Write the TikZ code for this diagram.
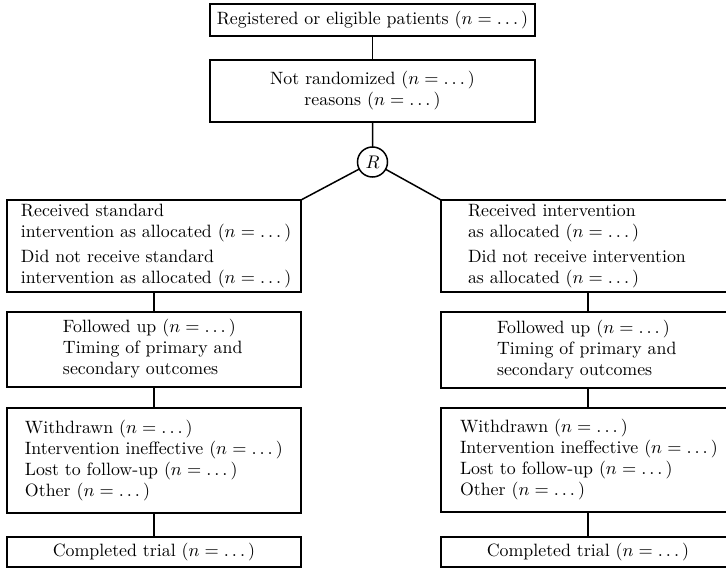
\documentclass[tikz,border=0pt]{standalone}
\usepackage{amsmath}
\newcommand\cellL[2]{\makebox[176.4pt][l]{\hspace*{#1}\begin{tabular}{@{}l@{}}#2\end{tabular}}}
\begin{document}
\begin{tikzpicture}[x=0.6pt,y=-0.6pt,
  every node/.style={font=\fontsize{10.7pt}{12.6pt}\selectfont},
  box/.style={draw, line width=0.9pt, anchor=north west, inner ysep=0pt, inner xsep=0pt, outer sep=0pt},
  wbox/.style={box, minimum width=176.4pt, minimum height=#1},
  cbox/.style={box, minimum width=176.4pt, minimum height=18pt, align=center},
  conn/.style={line width=0.9pt}]
\useasboundingbox (0,0) rectangle (726,568);
% top part
\node[box, minimum width=195pt, minimum height=19.2pt, align=center] (top) at (210,4) {Registered or eligible patients ($n=\dots$)};
\node[box, minimum width=195pt, minimum height=37.2pt, align=center] (nr) at (210,60) {Not randomized ($n=\dots$)\\reasons ($n=\dots$)};
\node[draw, circle, line width=0.9pt, minimum size=18pt, inner sep=0pt, outer sep=0pt] (R) at (372.5,162) {$R$};
% left column
\node[wbox=55.2pt] (L1) at (7,200) {\cellL{8.4pt}{Received standard\\intervention as allocated ($n=\dots$)\\[2.4pt]Did not receive standard\\intervention as allocated ($n=\dots$)}};
\node[wbox=45pt] (L2) at (7,312) {\cellL{33.6pt}{Followed up ($n=\dots$)\\Timing of primary and\\secondary outcomes}};
\node[wbox=63pt] (L3) at (7,408) {\cellL{10.8pt}{Withdrawn ($n=\dots$)\\Intervention ineffective ($n=\dots$)\\Lost to follow-up ($n=\dots$)\\Other ($n=\dots$)}};
\node[cbox] (L4) at (7,537) {Completed trial ($n=\dots$)};
% right column
\node[wbox=55.2pt] (R1) at (441,200) {\cellL{16.2pt}{Received intervention\\as allocated ($n=\dots$)\\[2.4pt]Did not receive intervention\\as allocated ($n=\dots$)}};
\node[wbox=45.6pt] (R2) at (441,312) {\cellL{33.6pt}{Followed up ($n=\dots$)\\Timing of primary and\\secondary outcomes}};
\node[wbox=62.4pt] (R3) at (441,408) {\cellL{11.4pt}{Withdrawn ($n=\dots$)\\Intervention ineffective ($n=\dots$)\\Lost to follow-up ($n=\dots$)\\Other ($n=\dots$)}};
\node[cbox] (R4) at (441,537) {Completed trial ($n=\dots$)};
% connectors
\draw[conn] (top.south) -- (nr.north);
\draw[conn] (nr.south) -- (R.north);
\draw[conn] (R) -- (L1.north east);
\draw[conn] (R) -- (R1.north west);
\draw[conn] (L1.south) -- (L2.north);
\draw[conn] (L2.south) -- (L3.north);
\draw[conn] (L3.south) -- (L4.north);
\draw[conn] (R1.south) -- (R2.north);
\draw[conn] (R2.south) -- (R3.north);
\draw[conn] (R3.south) -- (R4.north);
\end{tikzpicture}
\end{document}
